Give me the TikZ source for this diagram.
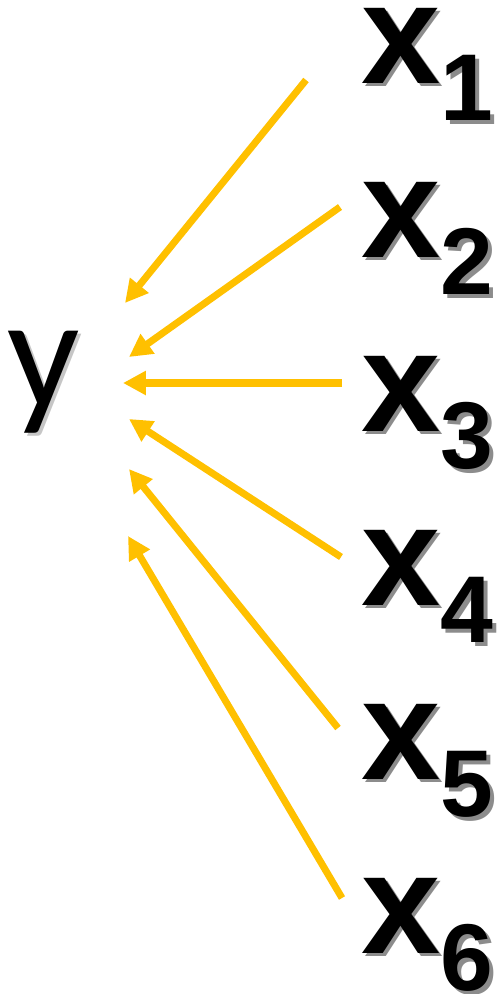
\documentclass[tikz,border=0pt]{standalone}
\usepackage{xcolor}
\usepackage{fontspec}
\usepackage{tikz}
\usetikzlibrary{arrows.meta}
\setmainfont{Liberation Sans}
\newfontfamily\yfont{Carlito}
\definecolor{arrowGold}{HTML}{FFC000}
\definecolor{shadowGrey}{HTML}{8C8C8C}
% text with a grey drop shadow behind it
\newcommand{\dropshadow}[2][shadowGrey]{\makebox[0pt][l]{\hspace{2pt}\raisebox{-2pt}{\color{#1}#2}}#2}
\newcommand{\xvar}[1]{\dropshadow{\bfseries x\raisebox{-21.5pt}{\fontsize{54}{54}\selectfont #1}}}
\tikzset{
  infl/.style={-{Triangle[length=13pt,width=13pt]}, line width=4pt, arrowGold},
  xlbl/.style={anchor=base west, inner sep=0pt, text height=0.56em, text depth=0.28em,
    font=\fontsize{81}{81}\selectfont},
  ylbl/.style={anchor=base west, inner sep=0pt, text height=0.48em, text depth=0.2em,
    font=\yfont\fontsize{91}{91}\selectfont},
}

\begin{document}
\begin{tikzpicture}[x=0.02cm, y=-0.02cm]
  \useasboundingbox (0,0) rectangle (500,994);
  % outcome
  \node[ylbl] (y) at (7,407) {\dropshadow[shadowGrey!50]{y}};
  % predictors
  \foreach \i in {1,...,6}
    \node[xlbl] (x\i) at (361,{83+174*(\i-1)}) {\xvar{\i}};
  % arrow tails and tips
  \coordinate (s1) at (306,80);  \coordinate (t1) at (125,303);
  \coordinate (s2) at (340,207); \coordinate (t2) at (129,357);
  \coordinate (s3) at (342,383); \coordinate (t3) at (123,383);
  \coordinate (s4) at (341,557); \coordinate (t4) at (129,419);
  \coordinate (s5) at (338,728); \coordinate (t5) at (129,469);
  \coordinate (s6) at (342,898); \coordinate (t6) at (128,536);
  \foreach \i in {1,...,6}
    \draw[infl] (s\i) -- (t\i);
\end{tikzpicture}
\end{document}
